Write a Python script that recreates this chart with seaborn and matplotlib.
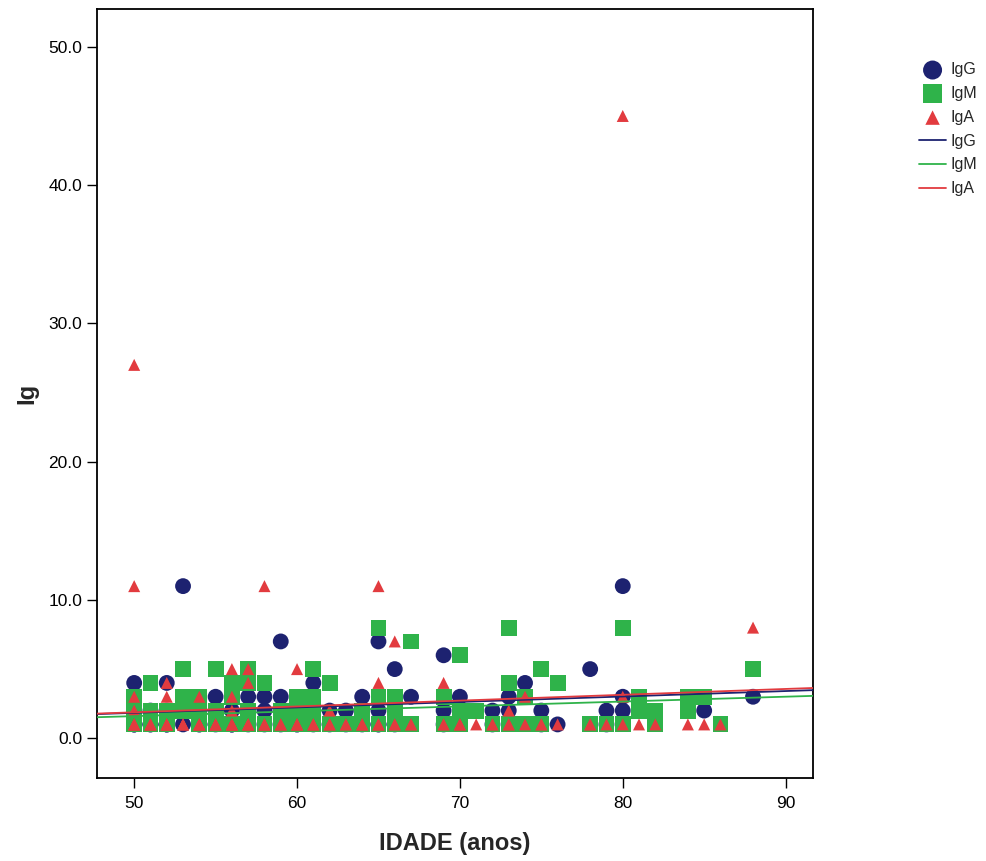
import pandas as pd
import matplotlib.pyplot as plt
import seaborn as sns

# Ig values by age
igg_age = [50, 52, 53, 53, 55, 56, 57, 58, 58, 59, 59, 61, 62, 63, 64, 65, 65,
           66, 67, 69, 69, 70, 72, 73, 73, 74, 75, 76, 78, 79, 80, 80, 80, 85, 88]
igg_val = [4, 4, 11, 1, 3, 2, 3, 3, 2, 7, 3, 4, 2, 2, 3, 7, 2,
           5, 3, 6, 2, 3, 2, 3, 2, 4, 2, 1, 5, 2, 11, 3, 2, 2, 3]
# cases that sit under other markers (estimated from the fit line)
igg_hidden_age = [50, 50, 50, 51, 51, 52, 52, 52, 54, 54, 55, 56, 56, 56, 57,
                  58, 59, 60, 60, 61, 62, 63, 64, 65, 65, 66, 69, 72, 75, 79,
                  50, 51, 52, 53, 54, 55, 57, 59, 60, 61]
igg_hidden_val = [1] * 30 + [2] * 10

igm_age = [50, 50, 50, 51, 51, 51, 52, 52, 53, 53, 53, 54, 54, 54, 55, 55, 55,
           56, 56, 56, 57, 57, 57, 57, 58, 58, 59, 59, 60, 60, 60, 61, 61, 61, 61,
           62, 62, 63, 64, 64, 65, 65, 65, 66, 66, 66, 67, 67, 69, 69, 70, 70, 70,
           71, 72, 73, 73, 73, 74, 74, 75, 75, 76, 78, 79, 80, 80, 81, 81, 82, 82,
           84, 84, 85, 86, 88]
igm_val = [3, 2, 1, 4, 2, 1, 2, 1, 5, 3, 2, 3, 2, 1, 5, 2, 1,
           4, 3, 1, 5, 4, 2, 1, 4, 1, 2, 1, 3, 2, 1, 5, 3, 2, 1,
           4, 1, 1, 2, 1, 8, 3, 1, 3, 2, 1, 7, 1, 3, 1, 6, 2, 1,
           2, 1, 8, 4, 1, 3, 1, 5, 1, 4, 1, 1, 8, 1, 3, 2, 2, 1,
           3, 2, 3, 1, 5]
igm_hidden_age = [50, 50, 51, 51, 52, 52, 54, 54, 54, 55, 55, 55, 56, 56, 56,
                  57, 57, 57, 58, 58, 58, 59, 59, 60, 60, 60, 61, 61, 62, 62,
                  63, 64, 65, 66, 67, 69, 70, 72]
igm_hidden_val = [1] * 38

iga_age = [50, 50, 50, 50, 50, 51, 52, 52, 52, 53, 54, 54, 55, 56, 56, 56, 56,
           57, 57, 57, 58, 58, 59, 60, 60, 61, 62, 62, 63, 64, 65, 65, 65, 66, 66,
           67, 69, 69, 70, 71, 72, 73, 73, 74, 74, 75, 76, 78, 79, 80, 80, 80,
           81, 82, 84, 85, 86, 88]
iga_val = [27, 11, 3, 2, 1, 1, 4, 3, 1, 1, 3, 1, 1, 5, 3, 2, 1,
           5, 4, 1, 11, 1, 1, 5, 1, 1, 2, 1, 1, 1, 11, 4, 1, 7, 1,
           1, 4, 1, 1, 1, 1, 2, 1, 3, 1, 1, 1, 1, 1, 45, 3, 1,
           1, 1, 1, 1, 1, 8]
iga_hidden_age = [50, 50, 50, 51, 51, 51, 52, 52, 52, 52, 53, 53, 54, 54, 54, 54,
                  55, 55, 55, 56, 56, 56, 56, 57, 57, 57, 58, 58, 58, 59, 59,
                  60, 60, 60, 61, 61, 62, 62, 63, 64, 64, 65, 65, 66, 67, 69,
                  70, 70, 72, 73, 75, 78]
iga_hidden_val = [1] * 52

df_g = pd.DataFrame({"idade": igg_age + igg_hidden_age, "ig": igg_val + igg_hidden_val})
df_m = pd.DataFrame({"idade": igm_age + igm_hidden_age, "ig": igm_val + igm_hidden_val})
df_a = pd.DataFrame({"idade": iga_age + iga_hidden_age, "ig": iga_val + iga_hidden_val})

c_g, c_m, c_a = "#1d2270", "#2fb34a", "#e23b3f"

sns.set_style("white")
plt.rcParams["font.family"] = ["Liberation Sans", "DejaVu Sans"]

fig = plt.figure(figsize=(9.87, 8.61), dpi=100)
ax = fig.add_axes([0.098, 0.096, 0.726, 0.893])

sns.scatterplot(data=df_g, x="idade", y="ig", marker="o", s=130, color=c_g,
                edgecolor="none", label="IgG", ax=ax, zorder=2)
sns.scatterplot(data=df_m, x="idade", y="ig", marker="s", s=130, color=c_m,
                edgecolor="none", label="IgM", ax=ax, zorder=3)
sns.scatterplot(data=df_a, x="idade", y="ig", marker="^", s=75, color=c_a,
                edgecolor="none", label="IgA", ax=ax, zorder=4)

ax.set_xlim(47.7, 91.7)
ax.set_ylim(-2.9, 52.7)

# linear fit lines across the whole axis
sns.regplot(data=df_g, x="idade", y="ig", scatter=False, ci=None, truncate=False,
            color=c_g, line_kws={"lw": 1.3, "zorder": 5}, label="IgG", ax=ax)
sns.regplot(data=df_m, x="idade", y="ig", scatter=False, ci=None, truncate=False,
            color=c_m, line_kws={"lw": 1.3, "zorder": 5}, label="IgM", ax=ax)
sns.regplot(data=df_a, x="idade", y="ig", scatter=False, ci=None, truncate=False,
            color=c_a, line_kws={"lw": 1.3, "zorder": 5}, label="IgA", ax=ax)

ax.set_xlim(47.7, 91.7)
ax.set_ylim(-2.9, 52.7)
ax.set_xticks([50, 60, 70, 80, 90])
ax.set_yticks([0, 10, 20, 30, 40, 50])
ax.set_yticklabels([f"{v:.1f}" for v in [0, 10, 20, 30, 40, 50]])
ax.tick_params(axis="both", direction="out", length=7, width=1, labelsize=12.5,
               colors="black", bottom=True, left=True)
ax.tick_params(axis="x", pad=6)
for sp in ax.spines.values():
    sp.set_color("black")
    sp.set_linewidth(1.3)

ax.set_xlabel("IDADE (anos)", fontsize=17, fontweight="bold")
ax.set_ylabel("Ig", fontsize=17, fontweight="bold")
ax.xaxis.set_label_coords(0.5, -0.07)
ax.yaxis.set_label_coords(-0.082, 0.5)

handles, labels = ax.get_legend_handles_labels()
if ax.legend_:
    ax.legend_.remove()
fig.legend(handles, labels, loc="upper left", bbox_to_anchor=(0.923, 0.937),
           frameon=False, fontsize=11.5, handlelength=1.7, handletextpad=0.3,
           labelspacing=0.55, borderpad=0, markerscale=1.2)

fig.savefig("out.png", dpi=100, facecolor="white")
